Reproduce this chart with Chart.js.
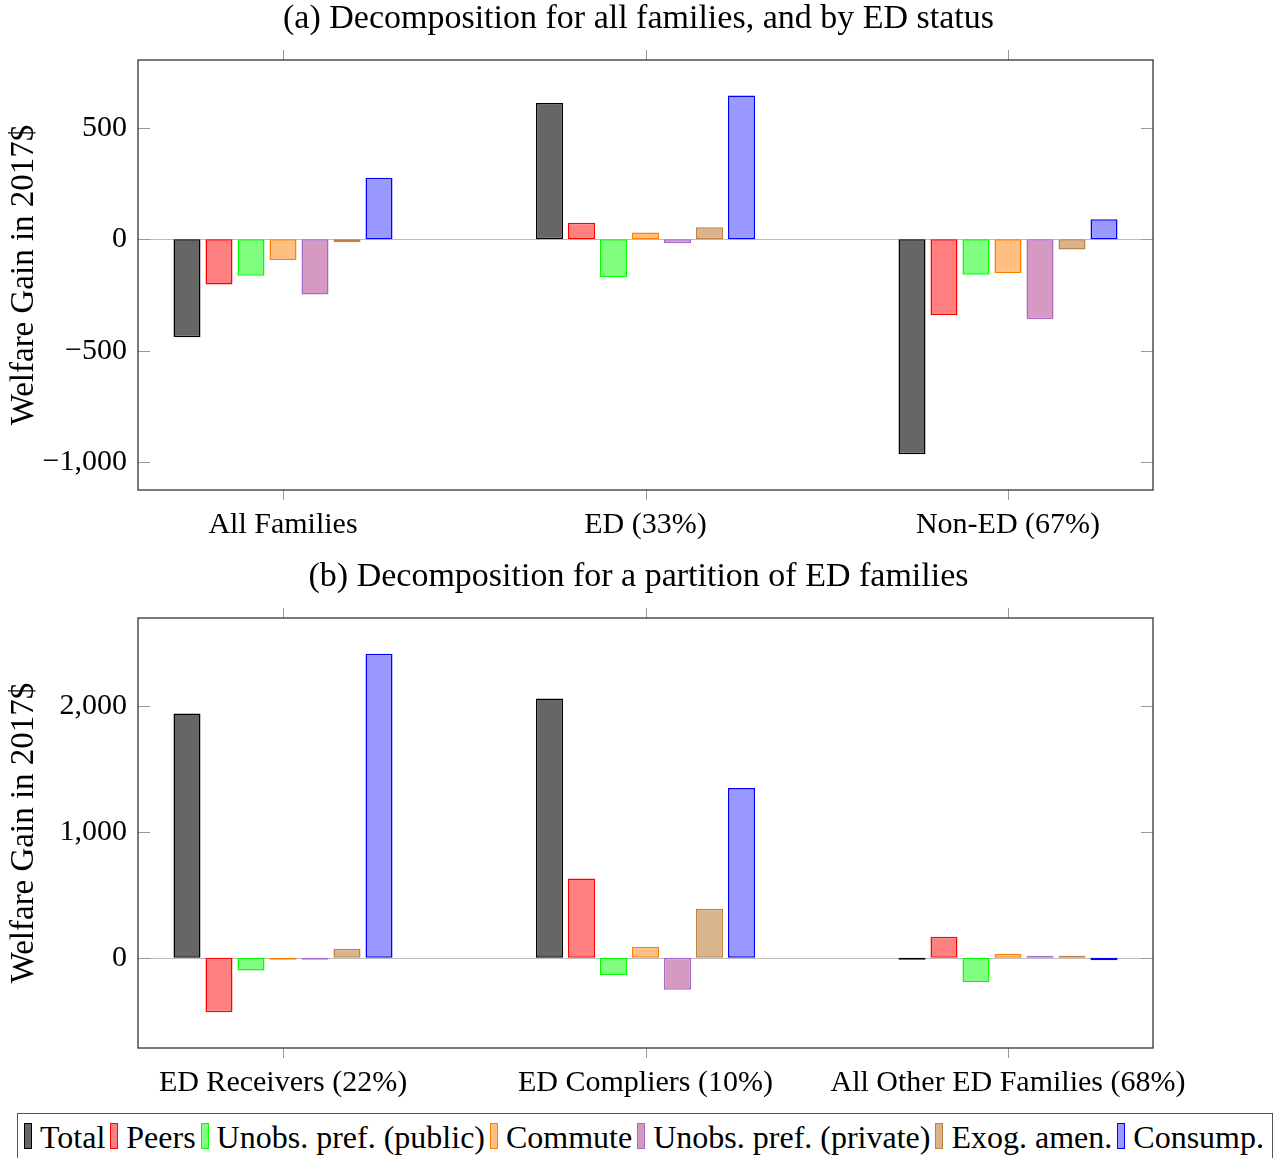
<!DOCTYPE html>
<html>
<head>
<meta charset="utf-8">
<script src="https://cdn.jsdelivr.net/npm/chart.js@4.4.0/dist/chart.umd.min.js"></script>
<style>
  body { margin: 0; background: #fff; width: 1277px; height: 1158px; overflow: hidden; position: relative; font-family: "Liberation Serif", serif; }
  .panel { position: absolute; left: 0; width: 1277px; height: 550px; }
  #legend { position: absolute; left: 17px; top: 1113px; width: 1256px; height: 60px; box-sizing: border-box;
    border: 1px solid #555; display: flex; align-items: flex-start; padding: 6px 0 0 6px; font-size: 32px; color: #000; }
  .item { display: flex; align-items: flex-start; margin-right: 5px; white-space: nowrap; line-height: 34px; }
  .swatch { width: 8px; height: 26px; margin: 3px 8px 0 0; box-sizing: border-box; border: 1px solid; }
</style>
</head>
<body>
<div class="panel" style="top:0"><canvas id="chartA" width="1277" height="550"></canvas></div>
<div class="panel" style="top:558px"><canvas id="chartB" width="1277" height="550"></canvas></div>
<div id="legend"></div>

<script>
// categories
const categoriesA = ["All Families", "ED (33%)", "Non-ED (67%)"];
const categoriesB = ["ED Receivers (22%)", "ED Compliers (10%)", "All Other ED Families (68%)"];

const seriesNames = ["Total", "Peers", "Unobs. pref. (public)", "Commute", "Unobs. pref. (private)", "Exog. amen.", "Consump."];

// panel (a) values
const totalA = [-439, 612, -964];
const peersA = [-203, 74, -339];
const publicA = [-163, -169, -159];
const commuteA = [-93, 31, -152];
const privateA = [-247, -18, -359];
const exogA = [-13, 54, -45];
const consumpA = [276, 646, 90];

// panel (b) values
const totalB = [1941, 2061, -8];
const peersB = [-434, 630, 167];
const publicB = [-101, -138, -193];
const commuteB = [-4, 87, 32];
const privateB = [-5, -254, 6];
const exogB = [71, 389, 4];
const consumpB = [2415, 1349, -21];

// tick labels
const yTicksA = [-1000, -500, 0, 500];
const yTicksB = [0, 1000, 2000];

const fills = ["#666666", "#ff8080", "#80ff80", "#ffbf80", "#d699c2", "#d8b38c", "#9999ff"];
const borders = ["#000000", "#ff0000", "#00ff00", "#ff8000", "#a66bc9", "#bf8040", "#0000ff"];

Chart.defaults.font.family = '"Liberation Serif", serif';
Chart.defaults.color = "#000";

function fmt(v) {
  const s = Math.abs(v).toLocaleString("en-US");
  return v < 0 ? "\u2212" + s : s;
}

// box, inside y ticks, outside x ticks, zero line
const framePlugin = {
  id: "frame",
  beforeDatasetsDraw(chart) {
    const { ctx, chartArea: a, scales: { y } } = chart;
    const y0 = y.getPixelForValue(0);
    ctx.save();
    ctx.strokeStyle = "#bdbdbd";
    ctx.lineWidth = 1;
    ctx.beginPath();
    ctx.moveTo(a.left, Math.round(y0) + 0.5);
    ctx.lineTo(a.right, Math.round(y0) + 0.5);
    ctx.stroke();
    ctx.restore();
  },
  afterDatasetsDraw(chart) {
    const { ctx, chartArea: a, scales: { x, y } } = chart;
    ctx.save();
    ctx.strokeStyle = "#9a9a9a";
    ctx.lineWidth = 1;
    ctx.beginPath();
    y.ticks.forEach(t => {
      const py = Math.round(y.getPixelForValue(t.value)) + 0.5;
      ctx.moveTo(a.left, py); ctx.lineTo(a.left + 12, py);
      ctx.moveTo(a.right, py); ctx.lineTo(a.right - 12, py);
    });
    x.ticks.forEach(t => {
      const px = Math.round(x.getPixelForValue(t.value)) + 0.5;
      ctx.moveTo(px, a.top); ctx.lineTo(px, a.top - 10);
      ctx.moveTo(px, a.bottom); ctx.lineTo(px, a.bottom + 10);
    });
    ctx.stroke();
    ctx.strokeStyle = "#333";
    ctx.lineWidth = 1.3;
    ctx.strokeRect(a.left, a.top, a.right - a.left, a.bottom - a.top);
    ctx.restore();
  }
};

function makeChart(id, title, categories, series, yMin, yMax, yTicks) {
  const datasets = series.map((vals, i) => ({
    label: seriesNames[i],
    data: vals.map((v, j) => ({ x: j, y: v })),
    backgroundColor: fills[i],
    borderColor: borders[i],
    borderWidth: 1.5,
    borderSkipped: false,
    minBarLength: 2,
    inflateAmount: 0,
    categoryPercentage: 0.618,
    barPercentage: 0.844
  }));

  return new Chart(document.getElementById(id), {
    type: "bar",
    data: { datasets },
    plugins: [framePlugin],
    options: {
      responsive: false,
      animation: false,
      layout: { padding: 0 },
      plugins: {
        legend: { display: false },
        tooltip: { enabled: false },
        title: {
          display: true,
          text: title,
          font: { size: 34, weight: "normal", lineHeight: 1 },
          padding: { top: 2, bottom: 24 }
        }
      },
      scales: {
        x: {
          type: "linear",
          offset: false,
          min: -0.4,
          max: 2.4,
          grid: { display: false, drawTicks: false },
          border: { display: false },
          afterBuildTicks: s => { s.ticks = categories.map((c, j) => ({ value: j })); },
          afterFit: s => { s.height = 60; },
          ticks: {
            font: { size: 30 },
            padding: 17,
            maxRotation: 0,
            autoSkip: false,
            callback: v => categories[v]
          }
        },
        y: {
          min: yMin,
          max: yMax,
          grid: { display: false, drawTicks: false },
          border: { display: false },
          afterBuildTicks: s => { s.ticks = yTicks.map(v => ({ value: v })); },
          afterFit: s => { s.width = 138; },
          ticks: {
            font: { size: 30 },
            padding: 11,
            callback: v => fmt(v)
          },
          title: {
            display: true,
            text: "Welfare Gain in 2017$",
            font: { size: 33 },
            padding: { top: 5, bottom: 0 }
          }
        },
        yR: {
          type: "linear",
          position: "right",
          grid: { display: false, drawTicks: false },
          border: { display: false },
          ticks: { display: false },
          afterFit: s => { s.width = 124; }
        }
      }
    }
  });
}

makeChart("chartA", "(a) Decomposition for all families, and by ED status", categoriesA,
  [totalA, peersA, publicA, commuteA, privateA, exogA, consumpA], -1125, 805, yTicksA);
makeChart("chartB", "(b) Decomposition for a partition of ED families", categoriesB,
  [totalB, peersB, publicB, commuteB, privateB, exogB, consumpB], -718, 2700, yTicksB);

// shared legend
const legend = document.getElementById("legend");
seriesNames.forEach((name, i) => {
  const item = document.createElement("div");
  item.className = "item";
  const sw = document.createElement("span");
  sw.className = "swatch";
  sw.style.background = fills[i];
  sw.style.borderColor = borders[i];
  const txt = document.createElement("span");
  txt.textContent = name;
  item.appendChild(sw);
  item.appendChild(txt);
  legend.appendChild(item);
});
</script>
</body>
</html>
